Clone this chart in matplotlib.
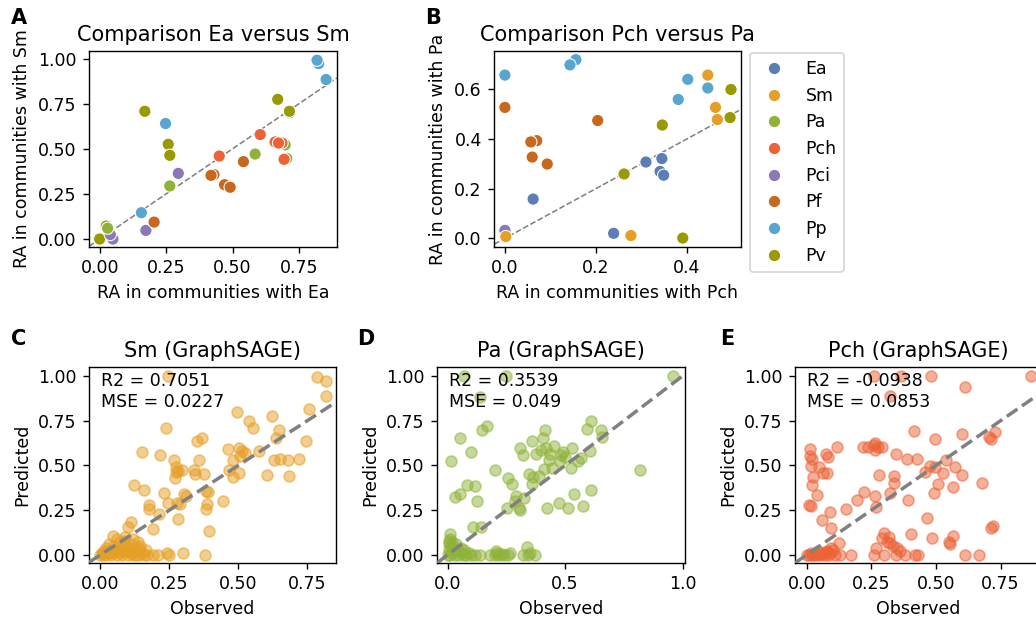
import matplotlib
matplotlib.use("Agg")
import matplotlib.pyplot as plt
from matplotlib.lines import Line2D

# species palette
SPECIES = ["Ea", "Sm", "Pa", "Pch", "Pci", "Pf", "Pp", "Pv"]
COLORS = ["#5b7fb5", "#e69f25", "#8fb339", "#ec6337",
          "#8b78b8", "#c7681c", "#5aa5cf", "#999900"]
PAL = dict(zip(SPECIES, COLORS))

# Panel A: RA with Ea (x) vs RA with Sm (y)
a_species = ["Pp", "Pp", "Pp", "Pp", "Pp", "Pp",
             "Pv", "Pv", "Pv", "Pv", "Pv", "Pv", "Pv",
             "Pci", "Pci", "Pci", "Pci",
             "Pf", "Pf", "Pf", "Pf", "Pf", "Pf",
             "Pa", "Pa", "Pa", "Pa", "Pa",
             "Pch", "Pch", "Pch", "Pch", "Pch", "Pch"]
a_x = [0.824, 0.818, 0.852, 0.248, 0.157, 0.716,
       0.000, 0.025, 0.170, 0.258, 0.264, 0.670, 0.714,
       0.174, 0.050, 0.296, 0.040,
       0.205, 0.430, 0.419, 0.470, 0.491, 0.541,
       0.264, 0.585, 0.698, 0.704, 0.030,
       0.450, 0.604, 0.660, 0.686, 0.673, 0.694]
a_y = [0.972, 0.991, 0.884, 0.640, 0.146, 0.700,
       0.000, 0.072, 0.708, 0.525, 0.464, 0.774, 0.708,
       0.048, 0.000, 0.364, 0.025,
       0.094, 0.357, 0.353, 0.301, 0.287, 0.429,
       0.294, 0.471, 0.522, 0.447, 0.060,
       0.460, 0.579, 0.538, 0.532, 0.532, 0.442]

# Panel B: RA with Pch (x) vs RA with Pa (y)
b_species = ["Pci",
             "Pp", "Pp", "Pp", "Pp", "Pp", "Pp",
             "Pf", "Pf", "Pf", "Pf", "Pf", "Pf",
             "Ea", "Ea", "Ea", "Ea", "Ea", "Ea",
             "Sm", "Sm", "Sm", "Sm", "Sm",
             "Pv", "Pv", "Pv", "Pv", "Pv"]
b_x = [0.000,
       0.000, 0.156, 0.143, 0.402, 0.381, 0.446,
       0.000, 0.204, 0.070, 0.057, 0.060, 0.093,
       0.062, 0.310, 0.345, 0.341, 0.349, 0.239,
       0.446, 0.463, 0.467, 0.277, 0.002,
       0.497, 0.495, 0.346, 0.262, 0.391]
b_y = [0.032,
       0.657, 0.719, 0.698, 0.640, 0.559, 0.605,
       0.527, 0.474, 0.393, 0.388, 0.327, 0.299,
       0.158, 0.307, 0.321, 0.269, 0.254, 0.020,
       0.657, 0.527, 0.478, 0.011, 0.007,
       0.599, 0.486, 0.456, 0.259, 0.001]

# Panel C: Sm observed / predicted
sm_obs = [0.246, 0.786, 0.816, 0.816, 0.757, 0.494, 0.538, 0.554, 0.623, 0.647,
          0.635, 0.745, 0.237, 0.351, 0.370, 0.151, 0.215, 0.267, 0.273, 0.283,
          0.296, 0.276, 0.272, 0.341, 0.342, 0.376, 0.358, 0.463, 0.503, 0.512,
          0.524, 0.506, 0.576, 0.479, 0.466, 0.481, 0.502, 0.630, 0.651, 0.681,
          0.721, 0.604, 0.682, 0.121, 0.160, 0.232, 0.304, 0.310, 0.382, 0.389,
          0.445, 0.246, 0.278, 0.288, 0.178, 0.177, 0.213, 0.385, 0.382, 0.283,
          0.190, 0.393, 0.111, 0.102, 0.046, 0.088, 0.137,
          0.000, 0.010, 0.020, 0.030, 0.040, 0.050, 0.060, 0.070, 0.080, 0.090,
          0.100, 0.110, 0.120, 0.130, 0.140, 0.150, 0.160, 0.020, 0.030, 0.050,
          0.070, 0.090, 0.110, 0.120, 0.140, 0.060, 0.040, 0.080, 0.100, 0.015,
          0.170, 0.190, 0.210, 0.250, 0.240, 0.300, 0.380, 0.130, 0.145, 0.165,
          0.005, 0.025, 0.045, 0.065, 0.085, 0.105, 0.125]
sm_pred = [1.000, 0.996, 0.972, 0.888, 0.818, 0.801, 0.749, 0.708, 0.777, 0.699,
           0.652, 0.639, 0.708, 0.638, 0.656, 0.574, 0.561, 0.530, 0.494, 0.470,
           0.476, 0.461, 0.429, 0.476, 0.450, 0.450, 0.530, 0.591, 0.595, 0.582,
           0.569, 0.554, 0.578, 0.530, 0.476, 0.433, 0.459, 0.530, 0.535, 0.533,
           0.537, 0.448, 0.442, 0.392, 0.362, 0.348, 0.338, 0.327, 0.359, 0.349,
           0.301, 0.290, 0.290, 0.283, 0.281, 0.255, 0.227, 0.284, 0.257, 0.201,
           0.145, 0.132, 0.182, 0.154, 0.108, 0.099, 0.071,
           0.000, 0.000, 0.000, 0.010, 0.000, 0.020, 0.000, 0.010, 0.000, 0.030,
           0.000, 0.010, 0.000, 0.020, 0.000, 0.010, 0.000, 0.040, 0.060, 0.050,
           0.070, 0.080, 0.060, 0.090, 0.040, 0.090, 0.030, 0.050, 0.040, 0.020,
           0.000, 0.000, 0.000, 0.000, 0.010, 0.010, 0.000, 0.000, 0.050, 0.030,
           0.010, 0.020, 0.010, 0.030, 0.020, 0.020, 0.040]
sm_r2, sm_mse = "0.7051", "0.0227"

# Panel D: Pa observed / predicted
pa_obs = [0.960, 0.068, 0.249, 0.136, 0.612, 0.595, 0.652, 0.656, 0.415, 0.404,
          0.360, 0.309, 0.320, 0.378, 0.398, 0.420, 0.452, 0.436, 0.433, 0.411,
          0.482, 0.493, 0.499, 0.530, 0.477, 0.523, 0.566, 0.556, 0.606, 0.443,
          0.391, 0.347, 0.363, 0.358, 0.272, 0.258, 0.201, 0.819, 0.609, 0.538,
          0.574, 0.513, 0.473, 0.422, 0.326, 0.292, 0.288, 0.252, 0.302, 0.306,
          0.167, 0.146, 0.051, 0.099, 0.014, 0.084, 0.118, 0.125, 0.051, 0.033,
          0.110, 0.142, 0.011, 0.006,
          0.000, 0.010, 0.020, 0.030, 0.040, 0.050, 0.060, 0.070, 0.080, 0.090,
          0.100, 0.005, 0.015, 0.025, 0.035, 0.045, 0.005, 0.012, 0.020, 0.055,
          0.070, 0.118, 0.140, 0.180, 0.200, 0.208, 0.220, 0.240, 0.255, 0.265,
          0.320, 0.337, 0.350, 0.370, 0.340, 0.210, 0.230]
pa_pred = [1.000, 1.000, 1.000, 0.885, 0.747, 0.702, 0.696, 0.661, 0.696, 0.652,
           0.637, 0.598, 0.557, 0.564, 0.588, 0.600, 0.607, 0.562, 0.529, 0.479,
           0.559, 0.575, 0.547, 0.596, 0.525, 0.488, 0.544, 0.525, 0.581, 0.488,
           0.441, 0.454, 0.436, 0.395, 0.395, 0.428, 0.475, 0.473, 0.361, 0.339,
           0.276, 0.264, 0.292, 0.264, 0.320, 0.331, 0.302, 0.264, 0.264, 0.251,
           0.721, 0.698, 0.655, 0.575, 0.525, 0.391, 0.385, 0.302, 0.339, 0.324,
           0.158, 0.156, 0.116, 0.078,
           0.000, 0.000, 0.010, 0.000, 0.020, 0.000, 0.010, 0.000, 0.000, 0.010,
           0.000, 0.030, 0.050, 0.040, 0.060, 0.030, 0.060, 0.090, 0.070, 0.040,
           0.030, 0.000, 0.000, 0.000, 0.000, 0.020, 0.000, 0.000, 0.000, 0.010,
           0.000, 0.045, 0.013, 0.000, 0.000, 0.010, 0.005]
pa_r2, pa_mse = "0.3539", "0.049"

# Panel E: Pch observed / predicted
pch_obs = [0.261, 0.366, 0.482, 0.867, 0.614, 0.321, 0.416, 0.498, 0.601, 0.704,
           0.713, 0.729, 0.218, 0.238, 0.261, 0.266, 0.263, 0.276, 0.292, 0.117,
           0.013, 0.013, 0.019, 0.015, 0.073, 0.084, 0.049, 0.077, 0.062, 0.026,
           0.022, 0.039, 0.010, 0.015, 0.345, 0.389, 0.427, 0.458, 0.476, 0.495,
           0.527, 0.540, 0.573, 0.602, 0.677, 0.508, 0.565, 0.494, 0.393, 0.338,
           0.339, 0.322, 0.281, 0.223, 0.263, 0.270, 0.196, 0.154, 0.090, 0.095,
           0.058, 0.126, 0.405, 0.465, 0.483, 0.550, 0.555, 0.566, 0.712, 0.721,
           0.291, 0.310, 0.322, 0.335, 0.350, 0.300, 0.320, 0.260, 0.300, 0.345,
           0.380, 0.420, 0.430, 0.614, 0.668, 0.130, 0.170, 0.360, 0.270,
           0.000, 0.010, 0.020, 0.030, 0.040, 0.050, 0.060, 0.070, 0.080, 0.090,
           0.100, 0.110, 0.015, 0.045, 0.075, 0.095, 0.055, 0.085]
pch_pred = [1.000, 1.000, 1.000, 1.000, 0.940, 0.888, 0.695, 0.650, 0.676, 0.659,
            0.648, 0.689, 0.601, 0.601, 0.613, 0.628, 0.587, 0.601, 0.601, 0.601,
            0.590, 0.555, 0.538, 0.499, 0.564, 0.549, 0.493, 0.456, 0.456, 0.438,
            0.391, 0.335, 0.281, 0.274, 0.562, 0.534, 0.534, 0.466, 0.497, 0.493,
            0.456, 0.531, 0.493, 0.447, 0.404, 0.395, 0.382, 0.346, 0.307, 0.441,
            0.404, 0.344, 0.447, 0.352, 0.330, 0.270, 0.307, 0.257, 0.238, 0.153,
            0.196, 0.065, 0.117, 0.205, 0.093, 0.074, 0.060, 0.106, 0.149, 0.164,
            0.093, 0.070, 0.065, 0.050, 0.040, 0.120, 0.100, 0.000, 0.000, 0.000,
            0.000, 0.000, 0.000, 0.000, 0.000, 0.000, 0.000, 0.020, 0.040,
            0.000, 0.000, 0.000, 0.000, 0.000, 0.005, 0.010, 0.000, 0.020, 0.010,
            0.030, 0.000, 0.010, 0.020, 0.015, 0.040, 0.000, 0.000]
pch_r2, pch_mse = "-0.0938", "0.0853"

W, H = 1036, 620
fig = plt.figure(figsize=(W / 125, H / 125), dpi=125)


def box(left, top, width, height):
    return [left / W, 1 - (top + height) / H, width / W, height / H]


def comparison(ax, xs, ys, sp, title, xlab, ylab):
    ax.axline((0, 0), slope=1, color="grey", lw=0.9, ls="--", zorder=1)
    ax.scatter(xs, ys, c=[PAL[s] for s in sp], s=50,
               edgecolors="white", linewidths=0.6, zorder=2)
    ax.set_title(title, fontsize=12)
    ax.set_xlabel(xlab, fontsize=10)
    ax.set_ylabel(ylab, fontsize=10)


def prediction(ax, obs, pred, color, title, r2, mse, xlim):
    ax.scatter(obs, pred, s=40, color=color, alpha=0.5, linewidths=1, zorder=2)
    ax.axline((0, 0), slope=1, color="grey", lw=2, ls="--", zorder=3)
    ax.text(0.05, 0.975, f"R2 = {r2}\nMSE = {mse}", transform=ax.transAxes,
            ha="left", va="top", fontsize=10, zorder=4)
    ax.set_title(title, fontsize=12)
    ax.set_xlabel("Observed", fontsize=10)
    ax.set_ylabel("Predicted", fontsize=10)
    ax.set_xlim(*xlim)
    ax.set_ylim(-0.045, 1.05)


axA = fig.add_axes(box(89, 51, 248, 196))
comparison(axA, a_x, a_y, a_species, "Comparison Ea versus Sm",
           "RA in communities with Ea", "RA in communities with Sm")
axA.set_xlim(-0.04, 0.893)
axA.set_ylim(-0.044, 1.042)

axB = fig.add_axes(box(494, 51, 247, 196))
comparison(axB, b_x, b_y, b_species, "Comparison Pch versus Pa",
           "RA in communities with Pch", "RA in communities with Pa")
axB.set_xlim(-0.024, 0.519)
axB.set_ylim(-0.035, 0.754)
handles = [Line2D([], [], marker="o", ls="", color=PAL[s], markersize=7,
                  markeredgecolor="white", markeredgewidth=0.5) for s in SPECIES]
axB.legend(handles, SPECIES, loc="upper left", bbox_to_anchor=(1.036, 0.99),
           borderaxespad=0, fontsize=10)

axC = fig.add_axes(box(89, 367, 247, 196))
prediction(axC, sm_obs, sm_pred, PAL["Sm"], "Sm (GraphSAGE)", sm_r2, sm_mse,
           (-0.041, 0.854))

axD = fig.add_axes(box(437, 367, 248, 196))
prediction(axD, pa_obs, pa_pred, PAL["Pa"], "Pa (GraphSAGE)", pa_r2, pa_mse,
           (-0.045, 1.01))

axE = fig.add_axes(box(795, 367, 247, 196))
prediction(axE, pch_obs, pch_pred, PAL["Pch"], "Pch (GraphSAGE)", pch_r2, pch_mse,
           (-0.045, 0.91))

for letter, x, y in [("A", 11, 24), ("B", 425, 24), ("C", 11, 345),
                     ("D", 357, 345), ("E", 720, 345)]:
    fig.text(x / W, 1 - y / H, letter, fontsize=12, fontweight="bold",
             va="baseline", ha="left")

fig.savefig("out.png", dpi=125)
